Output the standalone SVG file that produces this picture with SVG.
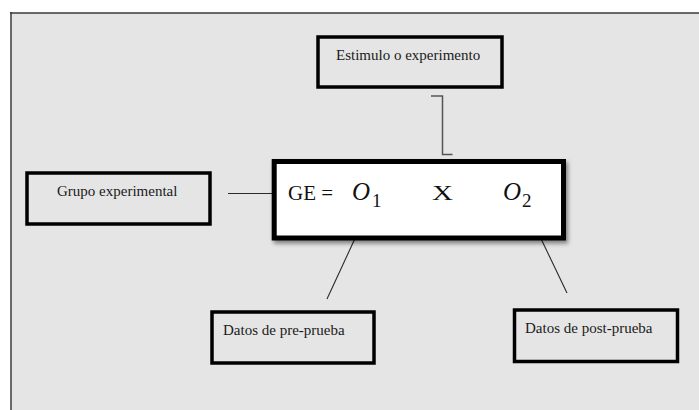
<svg xmlns="http://www.w3.org/2000/svg" width="699" height="410" viewBox="0 0 699 410">
  <defs>
    <filter id="shadow" x="-10%" y="-10%" width="125%" height="135%">
      <feDropShadow dx="2" dy="3" stdDeviation="2" flood-color="#000" flood-opacity="0.45"/>
    </filter>
  </defs>
  <style>
    .box { fill: none; stroke: #000; stroke-width: 3.5; }
    .lbl { font-family: "Liberation Serif", "Times New Roman", serif; font-size: 15px; fill: #1a1a1a; }
    .conn { fill: none; stroke: #2a2a2a; stroke-width: 1.1; }
    .eq { font-family: "Liberation Serif", "Times New Roman", serif; fill: #111; }
  </style>
  <rect x="0" y="0" width="699" height="410" fill="#ffffff"/>
  <rect x="11" y="13" width="690" height="400" fill="#e5e5e5"/>
  <line x1="11" y1="12" x2="11" y2="410" stroke="#6a6a6a" stroke-width="2"/>
  <line x1="10" y1="13" x2="699" y2="13" stroke="#3a3a3a" stroke-width="1.6"/>

  <g id="connectors">
    <path class="conn" d="M228,193.5 H273"/>
    <path d="M431,96 H442.5 V154.5 H452.5" fill="none" stroke="#555" stroke-width="1.5"/>
    <path class="conn" d="M358,232 L327,299"/>
    <path class="conn" d="M533,222 L567,293"/>
  </g>

  <g id="estimulo">
    <rect class="box" x="318" y="37" width="184" height="50" stroke-width="4"/>
    <text class="lbl" x="336" y="60">Estimulo o experimento</text>
  </g>

  <g id="grupo">
    <rect class="box" x="27" y="173" width="183" height="51"/>
    <text class="lbl" x="57" y="196">Grupo experimental</text>
  </g>

  <g id="ecuacion">
    <rect x="274.2" y="161.5" width="289.3" height="76.5" fill="#ffffff" stroke="#000" stroke-width="5" filter="url(#shadow)"/>
    <text class="eq" x="288" y="200" font-size="21">GE =</text>
    <text class="eq" x="352" y="200" font-size="25" font-style="italic">O</text>
    <text class="eq" x="372" y="207" font-size="19">1</text>
    <text class="eq" x="432" y="200" font-size="22" textLength="21" lengthAdjust="spacingAndGlyphs">X</text>
    <text class="eq" x="503" y="200" font-size="25" font-style="italic">O</text>
    <text class="eq" x="522" y="207" font-size="19">2</text>
  </g>

  <g id="pre">
    <rect class="box" x="212" y="312" width="162" height="51"/>
    <text class="lbl" x="223" y="335">Datos de pre-prueba</text>
  </g>

  <g id="post">
    <rect class="box" x="514.5" y="310" width="163" height="51.5"/>
    <text class="lbl" x="525" y="333">Datos de post-prueba</text>
  </g>
</svg>
